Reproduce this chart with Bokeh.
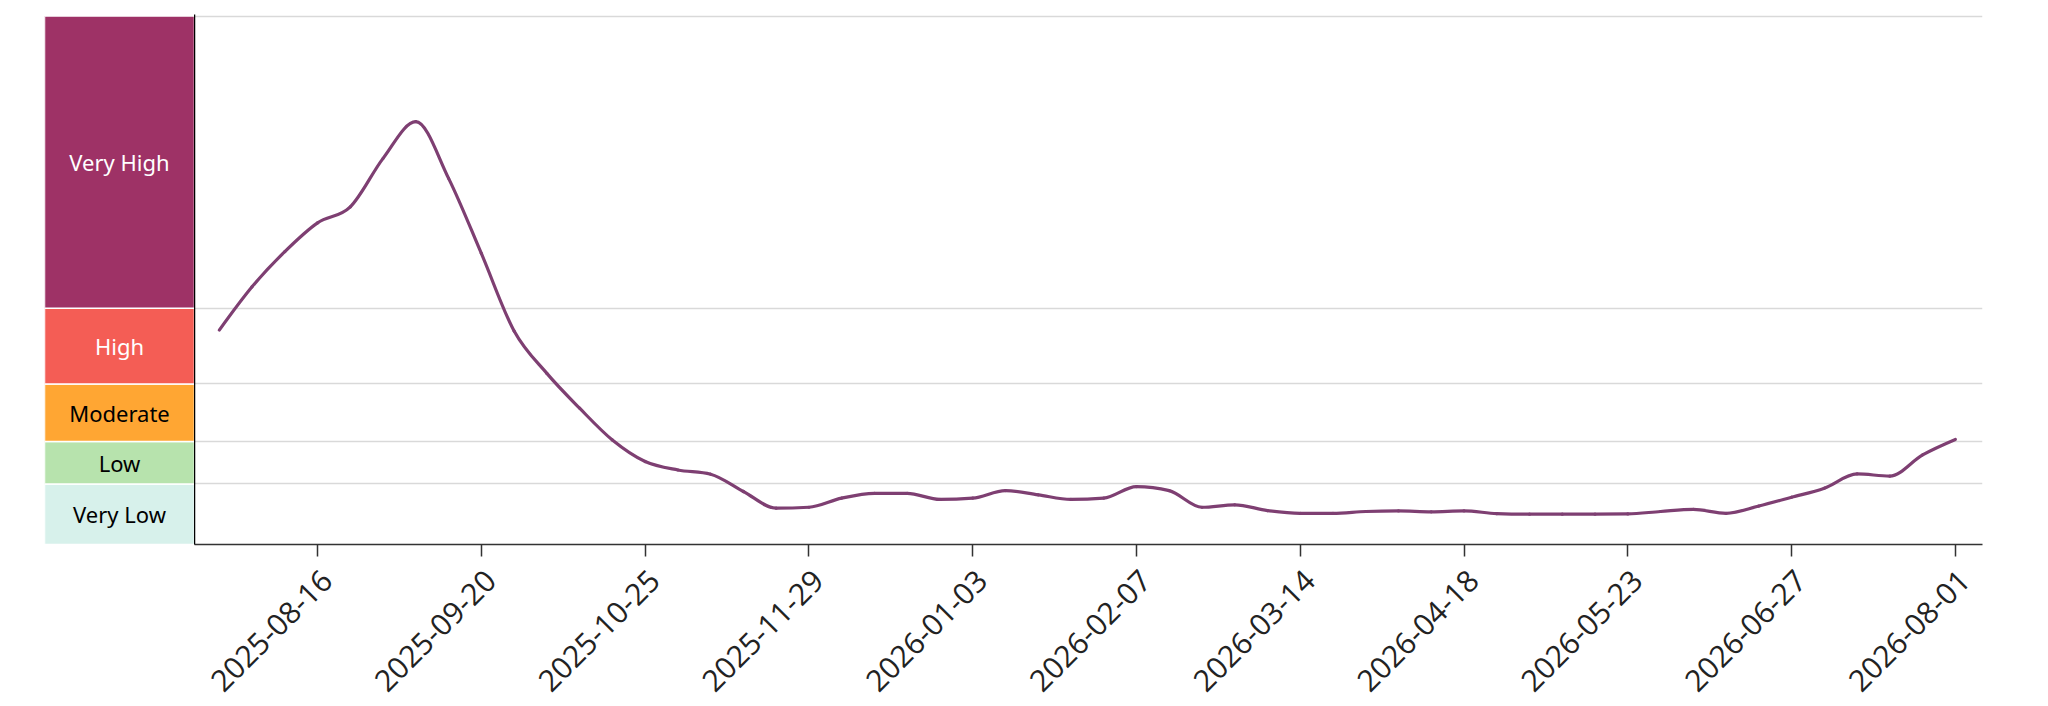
import math
import numpy as np
import pandas as pd
from bokeh.plotting import figure
from bokeh.layouts import row
from bokeh.models import Range1d, FixedTicker, LinearAxis
from bokeh.core.properties import value
from bokeh.embed import file_html
from bokeh.resources import INLINE

# ---------------- data ----------------
start_date = "2025-07-26"
weekly_values = [7.08, 8.51, 9.67, 10.62, 11.15, 12.75, 13.96, 12.09, 9.61, 7.05,
                 5.65, 4.50, 3.45, 2.74, 2.46, 2.32, 1.75, 1.20, 1.23, 1.53,
                 1.69, 1.69, 1.49, 1.53, 1.78, 1.64, 1.49, 1.53, 1.91, 1.78,
                 1.23, 1.31, 1.12, 1.03, 1.03, 1.09, 1.11, 1.08, 1.11, 1.02,
                 1.00, 1.00, 1.00, 1.01, 1.09, 1.16, 1.03, 1.27, 1.56, 1.86,
                 2.33, 2.26, 2.96, 3.47]
tick_labels = ["2025-08-16", "2025-09-20", "2025-10-25", "2025-11-29", "2026-01-03",
               "2026-02-07", "2026-03-14", "2026-04-18", "2026-05-23", "2026-06-27",
               "2026-08-01"]
level_names = ["Very Low", "Low", "Moderate", "High", "Very High"]
level_bounds = [0, 2, 3.4, 5.3, 7.8, 17.45]
level_colors = ["#d7f1eb", "#b7e3ad", "#ffa633", "#f45d55", "#9e3266"]
level_text_colors = ["black", "black", "black", "white", "white"]

DAY_MS = 86400000
dates = pd.date_range(start_date, periods=len(weekly_values), freq="7D")
base_ms = int(pd.Timestamp(start_date).value // 10**6)
tick_ms = [int(pd.Timestamp(t).value // 10**6) for t in tick_labels]

# monotone-x curve (same construction as d3.curveMonotoneX)
xd = np.array([(d - dates[0]).days for d in dates], dtype=float)
yv = np.array(weekly_values, dtype=float)
n = len(yv)
h = np.diff(xd)
s = np.diff(yv) / h
tg = np.zeros(n)
sg = lambda v: -1.0 if v < 0 else 1.0
for i in range(1, n - 1):
    h0, h1 = h[i - 1], h[i]
    s0, s1 = s[i - 1], s[i]
    pp = (s0 * h1 + s1 * h0) / (h0 + h1)
    tg[i] = (sg(s0) + sg(s1)) * min(abs(s0), abs(s1), 0.5 * abs(pp))
tg[0] = (3 * s[0] - tg[1]) / 2
tg[-1] = (3 * s[-1] - tg[-2]) / 2
dx = h / 3.0
seg_x0 = base_ms + xd[:-1] * DAY_MS
seg_x1 = base_ms + xd[1:] * DAY_MS
seg_cx0 = base_ms + (xd[:-1] + dx) * DAY_MS
seg_cx1 = base_ms + (xd[1:] - dx) * DAY_MS
seg_y0 = yv[:-1]
seg_y1 = yv[1:]
seg_cy0 = yv[:-1] + dx * tg[:-1]
seg_cy1 = yv[1:] - dx * tg[1:]

# ---------------- layout ----------------
y_range = Range1d(0, 17.5)
x_start = tick_ms[0] - 26.3 * DAY_MS
x_end = tick_ms[0] + 355.8 * DAY_MS

FRAME_H = 530
TOP = 14

# band column
b = figure(x_range=Range1d(0, 1), y_range=y_range, frame_width=150, frame_height=FRAME_H,
           min_border_left=44, min_border_right=0, min_border_top=TOP, min_border_bottom=0,
           toolbar_location=None, output_backend="svg")
b.axis.visible = False
b.grid.visible = False
b.outline_line_color = None
b.quad(left=0, right=1, bottom=level_bounds[:-1], top=level_bounds[1:],
       fill_color=level_colors, line_color="white", line_width=1.5)
centers = [(level_bounds[i] + level_bounds[i + 1]) / 2 for i in range(len(level_names))]
b.text(x=[0.5] * len(level_names), y=centers, text=level_names, text_color=level_text_colors,
       text_align="center", text_baseline="middle", text_font=value("Noto Sans"),
       text_font_size="22px")

# main chart
p = figure(x_axis_type="datetime", x_range=Range1d(x_start, x_end), y_range=y_range,
           frame_width=1788, frame_height=FRAME_H,
           min_border_left=0, min_border_right=30, min_border_top=TOP, min_border_bottom=0,
           toolbar_location=None, output_backend="svg")
p.outline_line_color = None
p.xgrid.visible = False
p.ygrid.ticker = FixedTicker(ticks=level_bounds[1:])
p.ygrid.grid_line_color = "#d9d9d9"
p.ygrid.grid_line_width = 1.3

p.yaxis.ticker = FixedTicker(ticks=[])
p.yaxis.axis_line_color = "black"
p.yaxis.axis_line_width = 1.5
p.yaxis.major_tick_out = 0
p.yaxis.major_tick_in = 0
p.yaxis.minor_tick_out = 0
p.yaxis.minor_tick_in = 0
p.yaxis.major_label_text_color = None
p.yaxis.major_label_standoff = 0

# axis line + tick marks (labels are carried by the second axis below)
p.xaxis.ticker = FixedTicker(ticks=tick_ms)
p.xaxis.major_label_text_color = None
p.xaxis.major_label_text_font_size = "1px"
p.xaxis.major_label_standoff = 0
p.xaxis.axis_line_color = "#333333"
p.xaxis.axis_line_width = 1.5
p.xaxis.major_tick_line_color = "#333333"
p.xaxis.major_tick_line_width = 1.5
p.xaxis.major_tick_out = 12
p.xaxis.major_tick_in = 0
p.xaxis.minor_tick_out = 0
p.xaxis.minor_tick_in = 0

# rotated tick labels, hung slightly right of each tick as in the original
label_shift = int(2.0 * DAY_MS)
label_ticks = [t + label_shift for t in tick_ms]
label_axis = LinearAxis(ticker=FixedTicker(ticks=label_ticks),
                        major_label_overrides={t: lab for t, lab in zip(label_ticks, tick_labels)},
                        axis_line_color=None, major_tick_line_color=None,
                        minor_tick_line_color=None,
                        major_tick_out=0, major_tick_in=0, minor_tick_out=0, minor_tick_in=0,
                        major_label_orientation=math.pi / 4, major_label_standoff=19,
                        major_label_text_font="Open Sans", major_label_text_font_size="30px",
                        major_label_text_color="#222222")
p.add_layout(label_axis, "below")

p.bezier(x0=seg_x0, y0=seg_y0, x1=seg_x1, y1=seg_y1,
         cx0=seg_cx0, cy0=seg_cy0, cx1=seg_cx1, cy1=seg_cy1,
         line_color="#7e3f72", line_width=3.2, line_cap="round")

layout = row(b, p)
open("out.html", "w").write(file_html(layout, INLINE))
